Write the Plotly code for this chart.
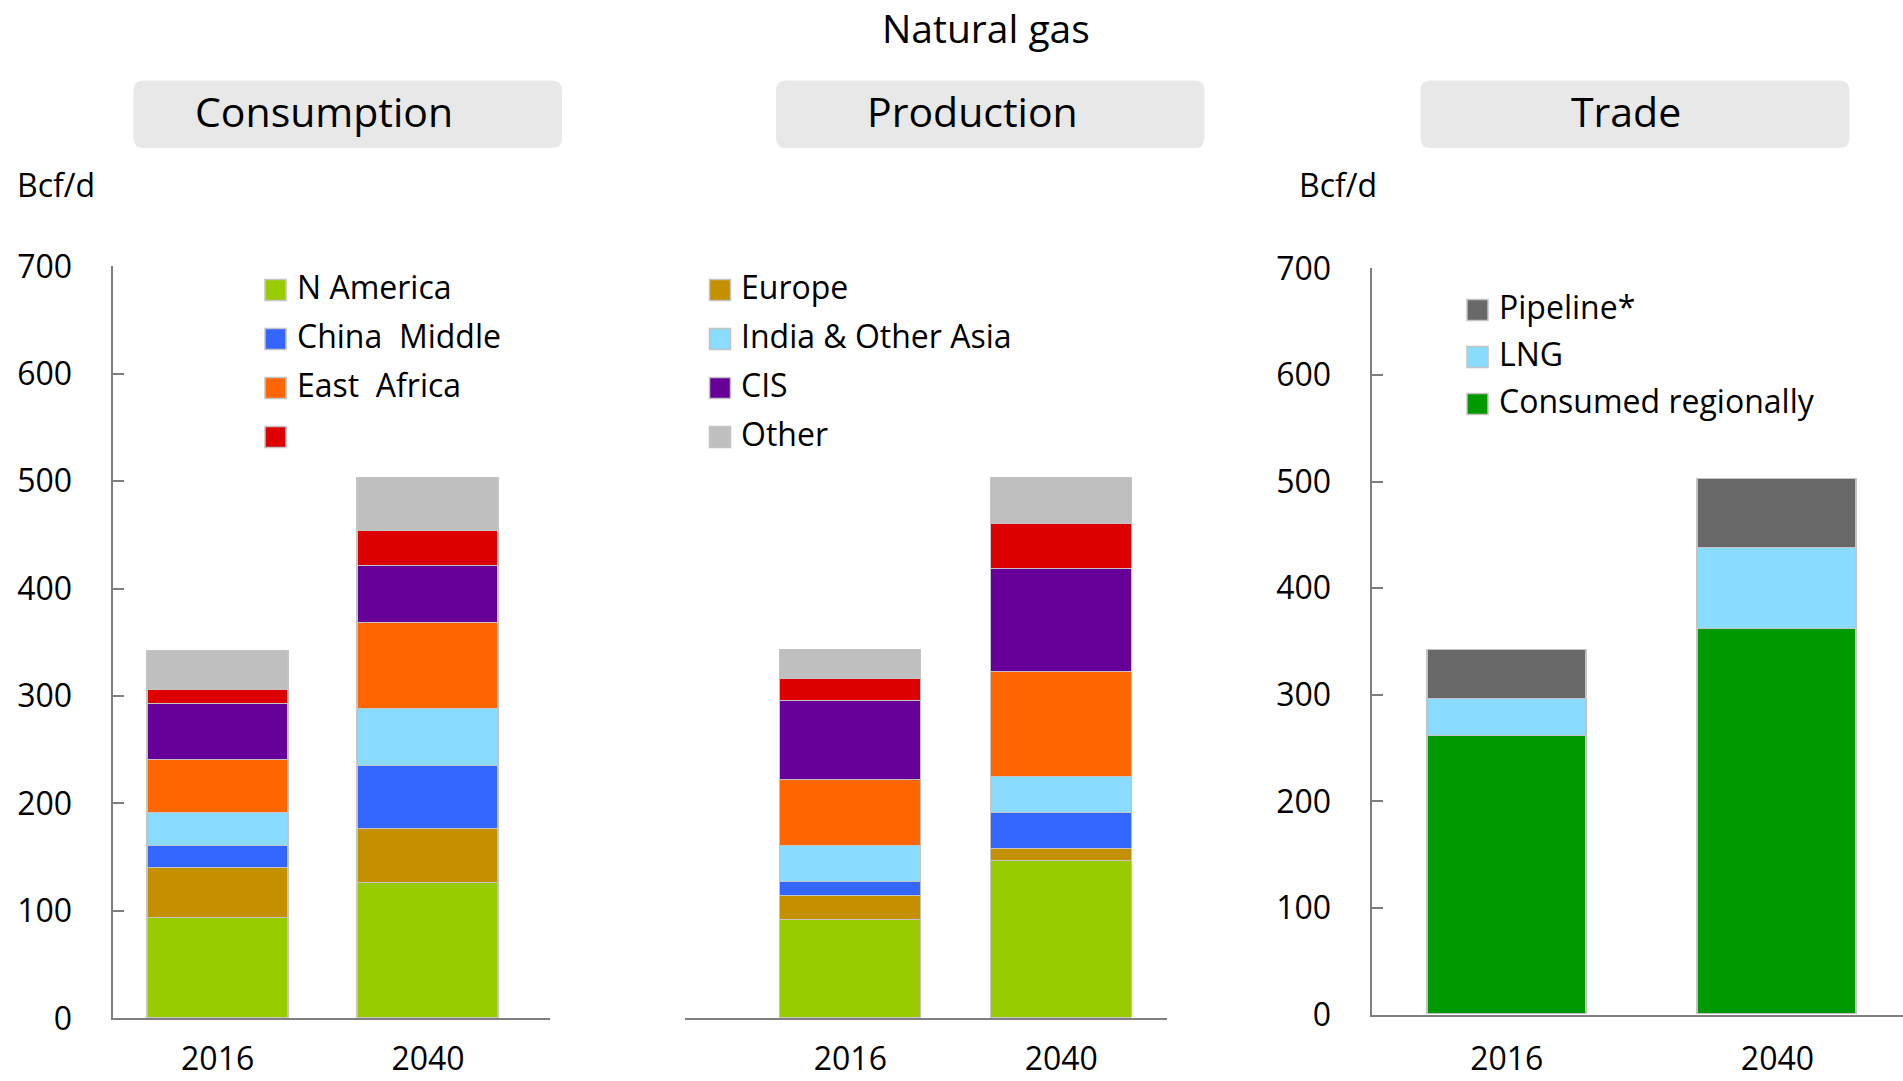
import plotly.graph_objects as go

W, H = 1903, 1081
FONT = "Open Sans"

# ---- data -------------------------------------------------------------
YEARS = ["2016", "2040"]

REGIONS = ["N America", "Europe", "China", "India & Other Asia",
           "Middle East", "CIS", "Africa", "Other"]
REGION_COLORS = ["#99cc00", "#c49000", "#3366ff", "#8adcff",
                 "#ff6600", "#660099", "#dd0000", "#bfbfbf"]

# Bcf/d, stacked bottom to top in REGIONS order
CONSUMPTION_2016 = [93, 47, 20, 31, 49, 52, 13, 37]
CONSUMPTION_2040 = [126, 50, 59, 53, 80, 53, 32, 50]
PRODUCTION_2016 = [91.5, 22.5, 12.5, 33.5, 62, 73.5, 20.5, 27]
PRODUCTION_2040 = [146, 11, 34, 33, 98, 96, 41.5, 43.5]

TRADE_SERIES = ["Consumed regionally", "LNG", "Pipeline*"]
TRADE_COLORS = ["#009900", "#8adcff", "#686868"]
TRADE_CONSUMED = [261, 361]
TRADE_LNG = [35, 76]
TRADE_PIPELINE = [46, 65]

# legend text, top to bottom
LEGEND_A_LABELS = ["N America", "China  Middle", "East  Africa", ""]
LEGEND_A_REGIONS = ["N America", "China", "Middle East", "Africa"]
LEGEND_B_LABELS = ["Europe", "India & Other Asia", "CIS", "Other"]
LEGEND_B_REGIONS = ["Europe", "India & Other Asia", "CIS", "Other"]
LEGEND_C_LABELS = ["Pipeline*", "LNG", "Consumed regionally"]

PANEL_TITLES = ["Consumption", "Production", "Trade"]
MAIN_TITLE = "Natural gas"
UNIT = "Bcf/d"


# ---- helpers ----------------------------------------------------------
def px(x):
    return x / W


def py(y):
    return 1 - y / H


def rounded_box(x0, y0, x1, y1, r, color):
    pts = [
        f"M{px(x0 + r)},{py(y0)}",
        f"L{px(x1 - r)},{py(y0)}",
        f"Q{px(x1)},{py(y0)} {px(x1)},{py(y0 + r)}",
        f"L{px(x1)},{py(y1 - r)}",
        f"Q{px(x1)},{py(y1)} {px(x1 - r)},{py(y1)}",
        f"L{px(x0 + r)},{py(y1)}",
        f"Q{px(x0)},{py(y1)} {px(x0)},{py(y1 - r)}",
        f"L{px(x0)},{py(y0 + r)}",
        f"Q{px(x0)},{py(y0)} {px(x0 + r)},{py(y0)}",
        "Z",
    ]
    return dict(type="path", xref="paper", yref="paper", path=" ".join(pts),
                fillcolor=color, line=dict(width=0), layer="below")


BAR_LINE = dict(color="#c4c4c4", width=1.5)
X_POS = [0, 1]

fig = go.Figure()

# consumption and production stacks
for ax, (v16, v40), bw in [("", (CONSUMPTION_2016, CONSUMPTION_2040), 0.67),
                           ("2", (PRODUCTION_2016, PRODUCTION_2040), 0.668)]:
    for i, name in enumerate(REGIONS):
        fig.add_trace(go.Bar(
            x=X_POS, y=[v16[i], v40[i]], name=name, width=bw,
            marker=dict(color=REGION_COLORS[i], line=BAR_LINE),
            xaxis="x" + ax, yaxis="y" + ax, showlegend=False))

# trade stacks
for name, vals, col in zip(TRADE_SERIES, [TRADE_CONSUMED, TRADE_LNG, TRADE_PIPELINE], TRADE_COLORS):
    fig.add_trace(go.Bar(
        x=X_POS, y=vals, name=name, width=0.588,
        marker=dict(color=col, line=BAR_LINE),
        xaxis="x3", yaxis="y3", showlegend=False))

# ---- axes -------------------------------------------------------------
AXIS_COLOR = "#7f7f7f"
tickfont = dict(family=FONT, size=32, color="#000000")
y_dom_a = [py(1018.3), py(266.3)]
y_dom_c = [py(1014.5), py(268.3)]

xcommon = dict(tickvals=X_POS, ticktext=YEARS, showline=True, linecolor=AXIS_COLOR,
               linewidth=2, ticks="", showgrid=False, zeroline=False, automargin=False,
               tickfont=tickfont, fixedrange=True)
ycommon = dict(range=[0, 700], dtick=100, showline=True, linecolor=AXIS_COLOR,
               linewidth=2, ticks="inside", ticklen=11, tickwidth=2, automargin=False,
               tickcolor=AXIS_COLOR, showgrid=False, zeroline=False,
               tickfont=tickfont, ticklabelstandoff=32, fixedrange=True)

fig.update_layout(
    xaxis=dict(domain=[px(112.5), px(550)], range=[-0.5, 1.58], anchor="y",
               ticklabelstandoff=11, **xcommon),
    yaxis=dict(domain=y_dom_a, anchor="x", **ycommon),
    xaxis2=dict(domain=[px(685), px(1166.7)], range=[-0.784, 1.5], anchor="y2",
                ticklabelstandoff=11, **xcommon),
    yaxis2=dict(domain=y_dom_a, anchor="x2", range=[0, 700], visible=False,
                automargin=False, fixedrange=True),
    xaxis3=dict(domain=[px(1371.5), 1.0], range=[-0.5, 1.464], anchor="y3",
                ticklabelstandoff=15, **xcommon),
    yaxis3=dict(domain=y_dom_c, anchor="x3", **ycommon),
)

# ---- titles, boxes, legends ------------------------------------------
shapes = []
annotations = []


def text(x, y, s, size, xanchor="left"):
    annotations.append(dict(xref="paper", yref="paper", x=px(x), y=py(y), text=s,
                            showarrow=False, xanchor=xanchor, yanchor="middle",
                            font=dict(family=FONT, size=size, color="#000000")))


text(986, 27.5, MAIN_TITLE, 39, "center")

boxes = [(133.5, 562, 324), (776, 1204.5, 973), (1420.5, 1849.5, 1626)]
for (bx0, bx1, tx), title in zip(boxes, PANEL_TITLES):
    shapes.append(rounded_box(bx0, 80.5, bx1, 148, 10, "#e8e8e8"))
    text(tx, 111, title, 41, "center")

text(15, 185, UNIT, 32)
text(1297, 185, UNIT, 32)


def legend(labels, colors, sq_x, text_x, rows):
    for lab, col, yc in zip(labels, colors, rows):
        shapes.append(dict(type="rect", xref="paper", yref="paper",
                           x0=px(sq_x), x1=px(sq_x + 21), y0=py(yc - 10.5), y1=py(yc + 10.5),
                           fillcolor=col, line=dict(color="#c4c4c4", width=1.5)))
        if lab:
            text(text_x, yc - 3.5, lab, 32)


color_of = dict(zip(REGIONS, REGION_COLORS))
rows_ab = [290, 339, 388, 437]
legend(LEGEND_A_LABELS, [color_of[r] for r in LEGEND_A_REGIONS], 265, 295, rows_ab)
legend(LEGEND_B_LABELS, [color_of[r] for r in LEGEND_B_REGIONS], 709.5, 739, rows_ab)
legend(LEGEND_C_LABELS, [TRADE_COLORS[2], TRADE_COLORS[1], TRADE_COLORS[0]],
       1467, 1497, [310, 357, 404])

fig.update_layout(
    width=W, height=H, margin=dict(l=0, r=0, t=0, b=0, autoexpand=False),
    barmode="stack", bargap=0,
    paper_bgcolor="#ffffff", plot_bgcolor="#ffffff",
    showlegend=False, shapes=shapes, annotations=annotations,
    font=dict(family=FONT, color="#000000"),
)

fig.write_html("out.html", config=dict(displayModeBar=False))
